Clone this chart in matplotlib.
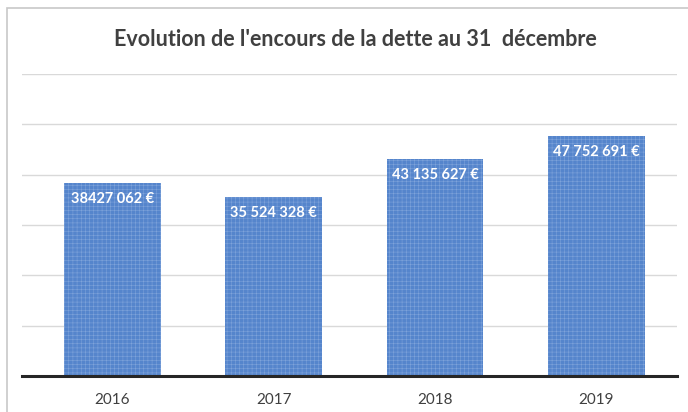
import matplotlib
matplotlib.use("Agg")
import matplotlib.pyplot as plt
from matplotlib.patches import Rectangle

years = ["2016", "2017", "2018", "2019"]
values = [38427062, 35524328, 43135627, 47752691]
labels = ["38427 062 €", "35 524 328 €", "43 135 627 €", "47 752 691 €"]

W, H = 688, 412
fig = plt.figure(figsize=(W/100, H/100), dpi=100)
plt.rcParams['font.family'] = ['Lato', 'DejaVu Sans']
plt.rcParams['hatch.linewidth'] = 0.4

# outer chart frame (left & top visible)
fig.patches.append(Rectangle((7/W, -0.1), 1.2, (H-8)/H + 0.1, transform=fig.transFigure,
                             fill=False, edgecolor='#c8c8c8', linewidth=1.2))

ax = fig.add_axes([22/W, 1-376/H, (677-22)/W, (376-74)/H])
x = list(range(len(years)))
bars = ax.bar(x, values, width=0.6, color='#5585cc', linewidth=0,
              hatch='++++', zorder=3)
for b in bars:
    b.set_edgecolor('#7ea3da')
for i, (v, lab) in enumerate(zip(values, labels)):
    ax.text(i, v - 3.2e6, lab, ha='center', va='center', color='white',
            fontsize=10.5, fontweight='bold', zorder=4)

ax.set_xlim(-0.56, 3.5)
ax.set_ylim(0, 60e6)
ax.set_yticks([10e6*k for k in range(1, 7)])
ax.yaxis.grid(True, color='#d9d9d9', linewidth=1)
ax.set_yticklabels([])
ax.tick_params(axis='y', length=0)
ax.set_xticks(x)
ax.set_xticklabels(years, fontsize=11, color='#404040')
ax.tick_params(axis='x', length=0, pad=12)
for s in ['top', 'right', 'left']:
    ax.spines[s].set_visible(False)
ax.spines['bottom'].set_color('#262626')
ax.spines['bottom'].set_linewidth(2.2)
ax.spines['bottom'].set_zorder(5)
ax.set_axisbelow(True)

fig.text(355/W, 1-40/H, "Evolution de l'encours de la dette au 31  décembre", ha='center', va='center',
         fontsize=15.5, fontweight='bold', color='#404040')

fig.savefig("out.png", dpi=100)
